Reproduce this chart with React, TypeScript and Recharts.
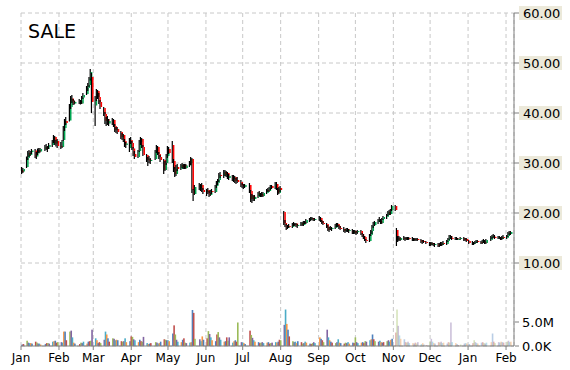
import React from "react";
import { ComposedChart, Bar, XAxis, YAxis, CartesianGrid } from "recharts";

// ---- categories ----
const holidays = [
  "2014-01-01", "2014-01-20", "2014-02-17", "2014-04-18", "2014-05-26", "2014-07-04",
  "2014-09-01", "2014-11-27", "2014-12-25", "2015-01-01", "2015-01-19",
];
const monthTicks = [0, 31, 59, 90, 120, 151, 181, 212, 243, 273, 304, 334, 365, 396];
const monthLabels = ["Jan", "Feb", "Mar", "Apr", "May", "Jun", "Jul", "Aug", "Sep", "Oct", "Nov", "Dec", "Jan", "Feb"];
const priceTicks = [10, 20, 30, 40, 50, 60];
const volumeTicks = [0, 5];
const volumeLabels = ["0.0K", "5.0M"];

// ---- series (price in $, volume in millions) ----
const open = [
  28.6,28.3,29.2,31.0,32.0,31.6,32.2,32.5,31.3,31.9,32.6,32.3,32.8,33.2,32.8,33.2,33.6,34.4,35.2,33.9,34.4,
  33.4,33.2,34.6,37.0,38.4,38.5,41.2,42.9,42.4,41.9,42.2,42.4,41.9,43.1,43.8,45.0,45.6,46.9,47.2,
  41.5,43.8,44.4,43.2,42.2,41.0,39.8,38.4,38.8,37.9,38.4,38.6,37.4,36.6,36.8,36.2,35.2,35.6,34.4,33.6,33.0,
  34.6,34.0,32.9,31.8,31.2,32.4,34.2,34.8,33.2,31.6,30.6,30.8,30.4,30.8,32.4,33.2,31.8,31.2,30.6,28.6,30.0,
  31.4,32.8,33.6,30.4,28.8,27.8,29.2,28.8,29.6,29.2,29.6,29.0,29.5,30.0,30.8,24.6,23.8,25.2,25.0,25.6,24.6,
  24.2,24.6,24.0,23.6,24.4,24.2,25.4,26.0,26.6,27.6,27.4,28.2,27.6,28.0,27.0,27.4,26.8,27.2,26.4,26.6,26.2,
  25.6,25.4,25.2,25.6,24.4,22.8,23.4,22.8,23.2,24.0,23.6,23.8,23.4,24.0,24.6,24.4,25.0,25.4,25.0,25.8,24.8,24.0,
  25.0,20.2,18.0,17.6,17.0,17.4,17.2,17.8,17.6,17.9,17.4,17.6,18.0,17.6,18.2,18.0,18.6,18.8,19.0,18.8,18.6,
  18.8,19.0,18.4,18.0,17.8,17.2,16.6,17.0,16.8,17.0,17.6,17.8,17.4,17.0,16.8,16.4,16.6,16.8,16.4,16.6,16.0,
  16.4,16.0,16.2,16.4,15.8,15.4,15.2,14.6,14.4,15.6,16.4,17.4,17.6,18.2,18.6,18.4,18.0,18.8,19.2,19.6,20.2,19.8,20.6,
  21.4,16.6,14.6,15.0,14.6,15.0,14.8,15.0,14.8,15.0,14.8,14.6,14.8,14.6,14.8,14.6,14.2,14.4,14.2,
  14.0,13.6,14.0,13.8,13.6,13.8,13.4,13.8,13.6,14.0,13.8,14.4,14.8,15.4,15.0,14.8,15.0,14.8,14.8,15.0,14.6,14.8,
  14.4,14.0,13.8,14.0,14.2,14.4,14.2,14.0,14.4,14.2,14.0,14.6,15.2,15.4,15.2,15.0,15.2,15.0,14.8,15.2,
  15.0,15.4,16.0,15.8,
];
const high = [
  29.2,29.0,31.3,32.4,32.6,32.4,32.8,32.8,32.2,32.9,33.0,33.0,33.6,33.8,33.4,34.0,34.6,35.6,35.4,34.6,34.8,
  34.2,34.6,37.4,38.8,39.2,41.8,43.4,43.6,42.8,42.5,42.8,42.6,43.4,44.0,45.4,46.0,47.2,48.8,48.0,
  43.4,44.8,44.6,44.0,42.6,41.2,40.2,39.2,39.4,38.8,39.0,38.8,37.8,37.2,37.2,36.4,36.0,35.8,34.8,34.2,35.0,
  35.2,34.4,33.2,32.4,32.6,34.6,35.2,35.0,33.6,31.8,31.2,31.4,31.0,32.6,33.6,33.4,32.2,31.6,30.8,30.4,31.8,
  33.4,33.2,34.4,30.8,29.2,29.6,29.8,29.8,30.0,29.8,29.8,29.8,30.4,31.2,31.0,24.8,25.6,26.0,25.8,26.0,25.0,
  24.8,25.0,24.4,24.6,24.8,25.6,26.4,26.8,28.0,28.2,28.6,28.6,28.4,28.2,27.8,27.6,27.6,27.4,27.0,27.2,26.6,
  26.0,25.8,25.8,26.0,24.6,23.8,23.6,23.6,24.2,24.4,24.0,24.2,24.2,24.8,25.0,25.2,25.6,25.6,26.2,26.2,25.0,25.2,
  25.4,20.4,18.6,17.8,17.6,17.8,18.0,18.2,18.0,18.0,17.8,18.2,18.2,18.4,18.4,18.8,19.0,19.2,19.2,19.0,19.0,
  19.4,19.2,18.6,18.4,18.0,17.6,17.2,17.4,17.2,17.8,18.0,18.0,17.6,17.4,17.2,16.8,17.0,17.0,16.8,16.8,16.6,
  16.6,16.4,16.6,16.6,16.0,15.8,15.4,14.8,15.8,16.6,17.6,18.2,18.4,18.8,19.2,18.8,19.0,19.4,19.8,20.4,20.6,20.8,21.6,
  21.6,17.0,15.4,15.4,15.2,15.4,15.2,15.2,15.2,15.2,15.2,15.0,15.0,15.0,15.0,14.8,14.6,14.6,14.4,
  14.2,14.2,14.2,14.0,14.0,14.0,14.0,14.2,14.2,14.4,14.6,15.0,15.6,15.6,15.4,15.2,15.2,15.0,15.2,15.2,15.0,15.0,
  14.6,14.4,14.2,14.4,14.6,14.6,14.4,14.6,14.8,14.6,14.8,15.4,15.6,15.8,15.6,15.4,15.4,15.2,15.4,15.6,
  15.6,16.2,16.4,16.4,
];
const low = [
  27.8,28.0,29.0,30.6,31.2,31.4,31.8,31.0,30.8,31.6,32.0,32.1,32.4,32.6,32.2,32.8,33.2,34.0,33.6,33.3,33.0,
  32.8,33.0,34.4,36.4,37.6,38.3,40.8,42.0,41.6,41.7,41.8,41.7,41.8,42.8,43.6,44.4,45.2,46.5,40.0,
  37.4,42.4,42.8,41.8,40.8,39.4,37.8,37.4,37.6,37.4,37.6,37.2,36.2,36.0,35.8,34.8,34.6,34.2,33.2,33.0,32.2,
  33.8,32.6,31.4,30.8,31.0,32.2,33.6,33.0,31.4,30.2,29.4,30.0,29.8,30.6,32.0,31.6,30.8,30.2,27.8,28.4,29.6,
  31.0,31.8,30.0,28.2,27.2,27.4,28.4,28.6,29.0,28.8,28.8,28.8,29.2,29.6,24.0,22.4,23.6,24.6,24.4,24.2,23.8,
  23.4,23.8,23.2,23.4,23.8,24.0,25.0,25.6,26.2,27.0,27.0,27.4,27.2,26.8,26.6,26.4,26.2,26.0,25.8,26.0,25.2,
  25.0,24.8,25.0,24.0,22.2,22.0,22.4,22.4,23.0,23.4,23.2,23.2,23.2,23.8,24.2,24.2,24.6,24.8,24.8,24.6,23.6,23.8,
  24.2,17.6,17.2,16.6,16.8,17.0,17.0,17.4,17.4,17.2,17.0,17.4,17.4,17.4,17.8,17.8,18.2,18.4,18.6,18.4,18.4,
  18.4,18.2,17.8,17.6,17.0,16.4,16.2,16.6,16.4,16.8,17.2,17.2,16.8,16.6,16.2,16.0,16.2,16.2,16.0,15.8,15.8,
  15.8,15.6,15.8,15.6,15.2,14.8,14.4,14.0,14.2,15.4,15.8,17.0,17.4,17.8,18.2,17.8,17.8,18.6,18.8,19.4,19.6,19.6,20.4,
  20.4,13.4,14.2,14.4,14.4,14.6,14.4,14.6,14.6,14.6,14.4,14.4,14.4,14.4,14.4,14.0,13.8,14.0,13.8,
  13.4,13.4,13.6,13.4,13.2,13.2,13.2,13.4,13.4,13.6,13.6,14.2,14.6,14.8,14.6,14.6,14.6,14.6,14.6,14.4,14.4,14.2,
  13.8,13.6,13.6,13.8,14.0,14.0,13.8,13.8,14.0,13.8,13.8,14.4,14.8,15.0,14.8,14.8,14.8,14.6,14.6,14.8,
  14.8,15.2,15.6,15.6,
];
const close = [
  28.2,28.8,31.0,32.0,31.6,32.2,32.5,31.3,31.9,32.6,32.3,32.8,33.2,32.8,33.2,33.6,34.4,35.2,33.9,34.4,33.4,
  33.2,34.4,37.0,38.4,38.0,41.2,42.9,42.4,41.9,42.2,42.4,41.9,43.1,43.6,45.0,45.6,46.9,48.2,42.2,
  42.6,44.4,43.2,42.2,41.2,39.8,38.4,38.8,37.9,38.4,38.6,37.4,36.6,36.8,36.2,35.2,35.6,34.4,33.6,33.9,34.6,
  34.0,32.9,31.8,31.2,32.4,34.2,34.8,33.2,31.6,30.6,30.8,30.4,30.6,32.4,33.2,31.8,31.2,30.6,28.6,30.0,31.4,
  32.8,32.0,30.4,28.8,27.8,29.2,28.8,29.6,29.2,29.6,29.0,29.5,30.0,30.8,24.6,23.8,25.2,25.0,25.6,24.6,24.2,
  24.6,24.0,23.6,24.4,24.2,25.4,26.0,26.6,27.6,27.4,28.2,27.6,28.0,27.0,27.4,26.8,27.2,26.4,26.6,26.2,25.6,
  25.4,25.2,25.6,24.4,22.8,23.4,22.8,23.2,24.0,23.6,23.8,23.4,24.0,24.6,24.4,25.0,25.4,25.0,25.8,24.8,24.0,25.0,
  24.6,18.0,17.6,17.0,17.4,17.2,17.8,17.6,17.9,17.4,17.6,18.0,17.6,18.2,18.0,18.6,18.8,19.0,18.8,18.6,18.8,
  19.0,18.4,18.0,17.8,17.2,16.6,17.0,16.8,17.0,17.6,17.8,17.4,17.0,16.8,16.4,16.6,16.8,16.4,16.6,16.0,16.4,
  16.0,16.2,16.4,15.8,15.4,15.2,14.6,14.4,15.6,16.4,17.4,17.6,18.2,18.6,18.4,18.0,18.8,19.2,19.6,20.2,19.8,20.6,21.4,
  20.6,14.6,15.0,14.6,15.0,14.8,15.0,14.8,15.0,14.8,14.6,14.8,14.6,14.8,14.6,14.2,14.4,14.2,14.0,
  13.6,14.0,13.8,13.6,13.8,13.4,13.8,13.6,14.0,13.8,14.4,14.8,15.4,15.0,14.8,15.0,14.8,14.8,15.0,14.6,14.8,14.4,
  14.0,13.8,14.0,14.2,14.4,14.2,14.0,14.4,14.2,14.0,14.6,15.2,15.4,15.2,15.0,15.2,15.0,14.8,15.2,15.0,
  15.4,16.0,15.8,16.2,
];
const volume = [
  0.3,0.4,1.1,0.7,0.6,0.6,0.5,0.9,0.7,0.5,0.5,0.3,0.4,0.6,0.6,0.5,0.9,1.0,1.1,0.7,0.8,
  0.8,0.7,3.0,3.0,1.2,3.0,3.2,1.8,0.7,0.5,0.4,0.7,0.6,0.9,0.5,0.9,1.0,1.1,3.4,
  1.6,1.2,0.6,0.8,0.6,1.3,3.0,2.4,1.6,0.9,1.6,1.5,1.2,1.3,1.2,1.0,0.9,1.0,1.6,0.8,1.0,
  2.0,1.9,1.4,1.2,0.8,1.3,1.0,0.9,1.9,0.6,0.4,0.5,0.6,0.8,0.7,0.5,0.6,0.9,1.4,1.3,1.2,
  1.2,1.0,2.6,4.3,2.4,1.3,0.9,0.8,1.3,1.6,0.7,0.6,0.7,0.8,7.5,6.9,1.5,1.4,1.0,2.0,1.3,
  1.6,3.1,2.5,1.8,1.2,1.0,2.4,2.9,1.8,1.3,0.9,1.0,1.8,1.1,1.8,0.7,1.0,1.2,0.9,4.9,0.8,
  0.7,0.6,0.4,3.2,2.3,1.7,1.2,0.9,0.8,0.6,0.7,0.8,0.6,0.7,0.8,0.5,0.6,0.7,0.8,0.7,0.9,1.3,
  1.2,4.4,7.6,4.6,3.4,2.0,1.0,0.8,0.9,0.6,1.0,0.8,0.5,0.6,0.9,0.7,0.5,0.4,0.6,0.8,0.6,
  1.8,1.5,1.2,0.8,3.4,1.8,1.2,0.9,0.7,0.6,0.8,1.4,0.7,0.6,0.5,0.7,0.6,0.8,0.5,0.7,0.6,
  1.8,0.8,0.6,0.7,0.8,0.6,1.0,0.9,1.2,1.4,2.4,1.4,1.0,0.9,1.1,0.8,0.7,0.8,1.0,1.2,0.9,1.3,1.5,
  2.8,7.6,4.2,2.2,1.5,1.4,0.8,0.7,0.9,0.6,0.6,0.5,0.7,0.5,0.8,0.4,0.6,0.3,0.2,
  1.0,1.5,0.9,0.6,0.5,0.8,0.7,0.9,0.6,0.7,0.5,0.8,0.7,4.9,0.8,0.6,0.4,0.2,0.3,0.5,0.6,0.5,
  0.4,0.6,1.2,0.8,0.6,0.5,0.7,0.8,0.6,0.5,0.7,0.8,2.6,0.9,0.6,0.8,0.7,0.9,0.8,0.7,
  0.9,1.1,0.8,0.9,
];

const volumePalette = ["#4F81BD", "#C0504D", "#9BBB59", "#8064A2", "#4BACC6", "#F79646"];
const FONT = "DejaVu Sans";

function buildDays(): number[] {
  const start = Date.UTC(2014, 0, 1);
  const end = Date.UTC(2015, 1, 5);
  const out: number[] = [];
  for (let t = start; t <= end; t += 86400000) {
    const dt = new Date(t);
    const wd = dt.getUTCDay();
    if (wd === 0 || wd === 6) continue;
    if (holidays.includes(dt.toISOString().slice(0, 10))) continue;
    out.push(Math.round((t - start) / 86400000));
  }
  return out;
}
const days = buildDays();
const fadeFrom = days.indexOf(306); // 3 Nov 2014

const data = days.map((d, i) => ({
  d, i, o: open[i], h: high[i], l: low[i], c: close[i], v: volume[i],
}));

const Candle = (props: any) => {
  const { x, y, width, height, payload } = props;
  if (x == null || y == null || !payload) return null;
  const cx = x + width / 2;
  const top = Math.min(y, y + height);
  const h = Math.abs(height);
  const range = payload.h - payload.l || 1;
  const py = (v: number) => top + ((payload.h - v) / range) * h;
  const up = payload.c >= payload.o;
  const bt = py(Math.max(payload.o, payload.c));
  const bb = py(Math.min(payload.o, payload.c));
  return (
    <g>
      <rect x={cx - 1.2} y={top} width={1.2} height={Math.max(h, 1)} fill="#000" />
      <rect x={cx} y={bt} width={1.5} height={Math.max(bb - bt, 1)} fill={up ? "#00A651" : "#FF0000"} />
    </g>
  );
};

const VolBar = (props: any) => {
  const { x, y, width, height, payload } = props;
  if (x == null || y == null || !payload) return null;
  const cx = x + width / 2;
  return (
    <rect
      x={cx - 0.8}
      y={Math.min(y, y + height)}
      width={1.6}
      height={Math.abs(height)}
      fill={volumePalette[payload.i % volumePalette.length]}
      fillOpacity={payload.i >= fadeFrom ? 0.4 : 1}
    />
  );
};

const PriceTick = (props: any) => {
  const { x, y, payload } = props;
  return (
    <g>
      <rect x={x - 2} y={y - 7} width={43} height={14} fill="#ECE9DA" />
      <text x={x + 2} y={y} dy={4.5} fontSize={13} fontFamily={FONT} fill="#000" textAnchor="start">
        {Number(payload.value).toFixed(2)}
      </text>
    </g>
  );
};

const VolTick = (props: any) => {
  const { x, y, payload } = props;
  const idx = volumeTicks.indexOf(payload.value);
  return (
    <text x={x + 1} y={y} dy={4.5} fontSize={13} fontFamily={FONT} fill="#000" textAnchor="start">
      {volumeLabels[idx]}
    </text>
  );
};

export default function App() {
  return (
    <div style={{ position: "absolute", left: 0, top: 0, width: 570, height: 370, background: "#fff" }}>
      <ComposedChart
        width={570}
        height={370}
        data={data}
        margin={{ top: 13, right: 54, bottom: 0, left: 21 }}
      >
        <CartesianGrid xAxisId="x" yAxisId="p" stroke="#C8C8C8" strokeDasharray="4 3" />
        <XAxis
          xAxisId="x"
          dataKey="d"
          type="number"
          domain={[0, 402.5]}
          ticks={monthTicks}
          interval={0}
          tickFormatter={(v: number) => monthLabels[monthTicks.indexOf(v)]}
          height={24}
          tickSize={4}
          tickMargin={3}
          stroke="#808080"
          tick={{ fill: "#000", fontSize: 12, fontFamily: FONT }}
        />
        <XAxis xAxisId="xv" dataKey="d" type="number" domain={[0, 402.5]} hide />
        <YAxis
          yAxisId="p"
          orientation="right"
          domain={[-6.6, 60]}
          ticks={priceTicks}
          interval={0}
          width={1}
          tickSize={5}
          tickMargin={2}
          stroke="#808080"
          tick={(p: any) => <PriceTick {...p} />}
        />
        <YAxis
          yAxisId="vol"
          orientation="right"
          domain={[0, 69.375]}
          ticks={volumeTicks}
          interval={0}
          width={1}
          tickSize={4}
          tickMargin={2}
          axisLine={false}
          stroke="#808080"
          tick={(p: any) => <VolTick {...p} />}
        />
        <Bar xAxisId="xv" yAxisId="vol" dataKey="v" shape={(p: any) => <VolBar {...p} />} isAnimationActive={false} />
        <Bar xAxisId="x" yAxisId="p" dataKey={(e: any) => [e.l, e.h]} shape={(p: any) => <Candle {...p} />} isAnimationActive={false} />
      </ComposedChart>
      <svg width={570} height={370} style={{ position: "absolute", left: 0, top: 0, pointerEvents: "none" }}>
        <text x={28} y={38} fontSize={19} fontFamily={FONT} fill="#000">SALE</text>
      </svg>
    </div>
  );
}
